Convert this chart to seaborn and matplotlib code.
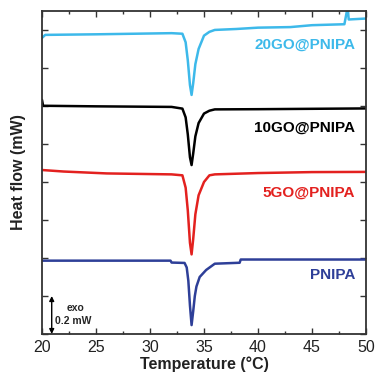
import numpy as np
import pandas as pd
import matplotlib
matplotlib.use("Agg")
import matplotlib.pyplot as plt
import seaborn as sns
from matplotlib.ticker import MultipleLocator, NullFormatter

# ---- data (heat flow in mW, offset curves) ----
t_20go = [20, 20.3, 25, 32, 33.0, 33.3, 33.5, 33.7, 33.85, 34.0, 34.2, 34.5, 35.0, 35.5, 36, 38, 40, 43, 45, 48, 48.3, 48.4, 50]
hf_20go = [1.558, 1.574, 1.577, 1.583, 1.580, 1.535, 1.44, 1.31, 1.258, 1.32, 1.42, 1.50, 1.57, 1.59, 1.60, 1.605, 1.612, 1.615, 1.625, 1.63, 1.72, 1.655, 1.66]

t_10go = [20, 20.1, 25, 32, 33.0, 33.3, 33.5, 33.7, 33.85, 34.0, 34.2, 34.5, 35.0, 35.5, 36, 40, 45, 50]
hf_10go = [1.232, 1.201, 1.198, 1.195, 1.186, 1.14, 1.05, 0.93, 0.889, 0.95, 1.04, 1.11, 1.16, 1.175, 1.182, 1.183, 1.185, 1.187]

t_5go = [20, 22, 26, 32, 33.0, 33.3, 33.5, 33.7, 33.85, 34.0, 34.2, 34.5, 35.0, 35.5, 36, 40, 45, 50]
hf_5go = [0.863, 0.855, 0.845, 0.84, 0.835, 0.77, 0.65, 0.48, 0.419, 0.50, 0.63, 0.73, 0.80, 0.835, 0.84, 0.847, 0.852, 0.853]

t_pnipa = [20, 31.9, 32.0, 33.2, 33.4, 33.55, 33.7, 33.85, 34.0, 34.15, 34.3, 34.6, 35.2, 36, 38.3, 38.4, 50]
hf_pnipa = [0.386, 0.386, 0.376, 0.374, 0.35, 0.28, 0.15, 0.047, 0.12, 0.20, 0.25, 0.30, 0.337, 0.37, 0.375, 0.392, 0.392]

series_names = ["20GO@PNIPA", "10GO@PNIPA", "5GO@PNIPA", "PNIPA"]
colors = ["#3db9ea", "#000000", "#e3211f", "#2e3f98"]
label_y = [1.52, 1.085, 0.745, 0.31]

frames = []
for name, t, h in zip(series_names, [t_20go, t_10go, t_5go, t_pnipa],
                      [hf_20go, hf_10go, hf_5go, hf_pnipa]):
    frames.append(pd.DataFrame({"T": t, "HF": h, "sample": name}))
df = pd.concat(frames, ignore_index=True)

sns.set_style("ticks")
plt.rcParams['font.family'] = ['Liberation Sans', 'DejaVu Sans']

fig = plt.figure(figsize=(3.75, 3.77), dpi=100)
ax = fig.add_axes([0.112, 0.114, 0.864, 0.857])

sns.lineplot(data=df, x="T", y="HF", hue="sample", palette=dict(zip(series_names, colors)),
             sort=False, estimator=None, linewidth=1.8, legend=False, ax=ax)

ax.set_xlim(20, 50)
ax.set_ylim(0, 1.7)
ax.xaxis.set_major_locator(MultipleLocator(5))
ax.xaxis.set_minor_locator(MultipleLocator(2.5))
ax.yaxis.set_major_locator(MultipleLocator(0.2))
ax.yaxis.set_major_formatter(NullFormatter())
ax.tick_params(axis="both", which="both", direction="in", top=True, right=True,
               color="#333333")
ax.tick_params(which="major", length=4, width=1.0)
ax.tick_params(which="minor", length=2.5, width=1.0)
ax.tick_params(axis="x", labelsize=11.5, pad=4, labelcolor="#222222")
for s in ax.spines.values():
    s.set_linewidth(1.3)
    s.set_color("#333333")

ax.set_xlabel("Temperature (\u00b0C)", fontsize=11.5, fontweight="bold", labelpad=1, color="#222222")
ax.set_ylabel("Heat flow (mW)", fontsize=11.5, fontweight="bold", labelpad=8, color="#222222")

for name, c, y in zip(series_names, colors, label_y):
    ax.text(49.0, y, name, color=c, fontsize=11, fontweight="bold", ha="right", va="center")

ax.annotate("", xy=(20.9, 0.0), xytext=(20.9, 0.2),
            arrowprops=dict(arrowstyle="<|-|>", color="black", lw=1.0, mutation_scale=7,
                            shrinkA=0, shrinkB=0))
ax.text(22.3, 0.135, "exo", fontsize=7.5, fontweight="bold", ha="left", va="center")
ax.text(21.2, 0.068, "0.2 mW", fontsize=7.5, fontweight="bold", ha="left", va="center")

fig.savefig("out.png", dpi=100)
